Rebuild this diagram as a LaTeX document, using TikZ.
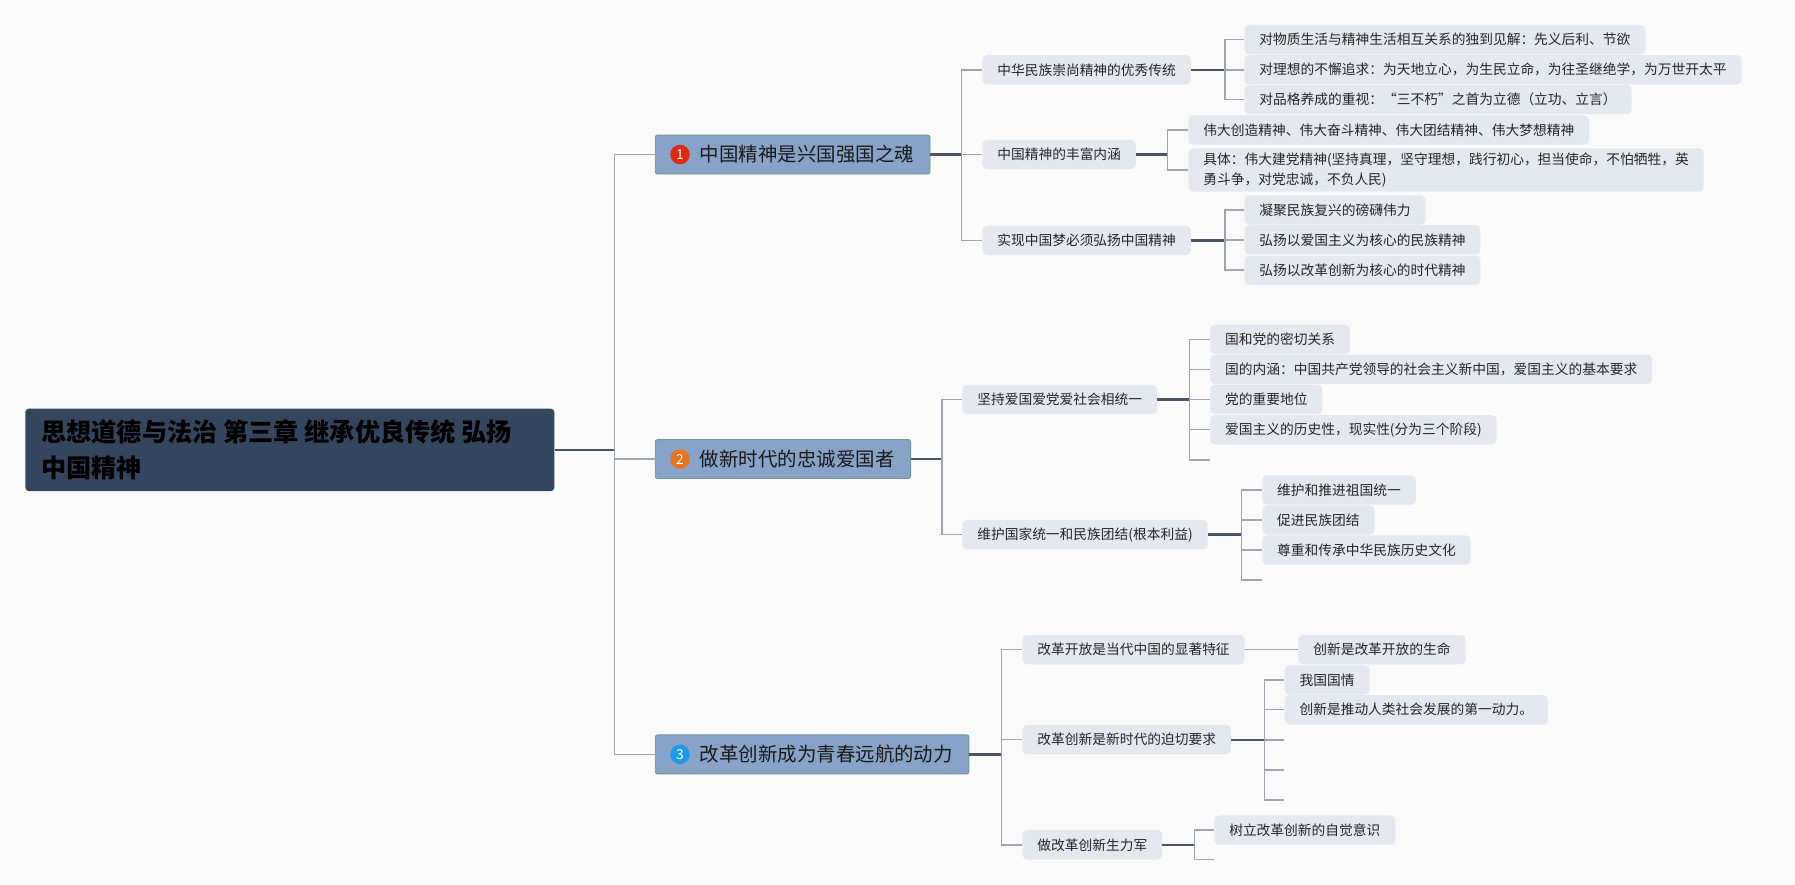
\documentclass[tikz,border=0pt]{standalone}
\usepackage{fontspec}
\setmainfont{Noto Sans CJK SC}
\usetikzlibrary{positioning}
\definecolor{rootblue}{RGB}{52,70,93}
\definecolor{topicblue}{RGB}{136,163,200}
\definecolor{topicedge}{RGB}{106,152,152}
\definecolor{subgray}{RGB}{228,232,239}
\definecolor{linedark}{RGB}{74,85,104}
\definecolor{linelight}{RGB}{160,164,172}
\definecolor{bgpaper}{RGB}{250,250,250}
\definecolor{dotred}{RGB}{222,40,16}
\definecolor{dotorange}{RGB}{232,115,26}
\definecolor{dotblue}{RGB}{30,155,232}
\tikzset{
  rootbox/.style={fill=rootblue, rounded corners=3pt, anchor=west, inner xsep=14pt, text width=434pt, minimum height=72pt, align=left, text=black, font=\fontsize{22}{32}\selectfont\bfseries},
  topicbox/.style={fill=topicblue, draw=topicedge, line width=0.8pt, rounded corners=2pt, anchor=west, inner xsep=14pt, minimum height=34pt, text=black!90, font=\fontsize{17}{20}\selectfont},
  subbox/.style={fill=subgray, rounded corners=4pt, anchor=west, inner xsep=13pt, inner ysep=4pt, minimum height=25.6pt, align=left, text=black!85, font=\fontsize{12}{17}\selectfont},
  numdot/.style={circle, inner sep=0pt, minimum size=17pt, text=white, font=\fontsize{12}{12}\selectfont},
  trunk/.style={draw=linedark, line width=2pt},
  branch/.style={draw=linelight, line width=1.2pt},
}
\begin{document}
\begin{tikzpicture}[x=1pt, y=-1pt]
  \fill[bgpaper] (0,0) rectangle (1568,773);
  \useasboundingbox (0,0) rectangle (1568,773);

  % Central topic
  \node[rootbox] (root) at (22,393) {思想道德与法治\hspace{5pt}第三章\hspace{5pt}继承优良传统\hspace{5pt}弘扬\\中国精神};

  % Main topics
  \node[topicbox] (t1) at (572,135) {\hspace*{25pt}中国精神是兴国强国之魂};
  \node[topicbox] (t2) at (572,401) {\hspace*{25pt}做新时代的忠诚爱国者};
  \node[topicbox] (t3) at (572,659) {\hspace*{25pt}改革创新成为青春远航的动力};
  \node[numdot, fill=dotred] (n1) at ([xshift=22pt]t1.west) {1};
  \node[numdot, fill=dotorange] (n2) at ([xshift=22pt]t2.west) {2};
  \node[numdot, fill=dotblue] (n3) at ([xshift=22pt]t3.west) {3};

  % Branch 1
  \node[subbox] (c11) at (858,61) {中华民族崇尚精神的优秀传统};
  \node[subbox] (c12) at (858,135) {中国精神的丰富内涵};
  \node[subbox] (c13) at (858,210) {实现中国梦必须弘扬中国精神};
  \node[subbox] (g111) at (1087,34.6) {对物质生活与精神生活相互关系的独到见解：先义后利、节欲};
  \node[subbox] (g112) at (1087,61) {对理想的不懈追求：为天地立心，为生民立命，为往圣继绝学，为万世开太平};
  \node[subbox] (g113) at (1087,87) {对品格养成的重视：“三不朽”之首为立德（立功、立言）};
  \node[subbox] (g121) at (1038,113.6) {伟大创造精神、伟大奋斗精神、伟大团结精神、伟大梦想精神};
  \node[subbox] (g122) at (1038,148.5) {具体：伟大建党精神(坚持真理，坚守理想，践行初心，担当使命，不怕牺牲，英\\勇斗争，对党忠诚，不负人民)};
  \node[subbox] (g131) at (1087,183.5) {凝聚民族复兴的磅礴伟力};
  \node[subbox] (g132) at (1087,209.5) {弘扬以爱国主义为核心的民族精神};
  \node[subbox] (g133) at (1087,236) {弘扬以改革创新为核心的时代精神};

  % Branch 2
  \node[subbox] (c21) at (840.5,349) {坚持爱国爱党爱社会相统一};
  \node[subbox] (c22) at (840.5,467) {维护国家统一和民族团结(根本利益)};
  \node[subbox] (g211) at (1057,296.4) {国和党的密切关系};
  \node[subbox] (g212) at (1057,322.6) {国的内涵：中国共产党领导的社会主义新中国，爱国主义的基本要求};
  \node[subbox] (g213) at (1057,348.8) {党的重要地位};
  \node[subbox] (g214) at (1057,375.4) {爱国主义的历史性，现实性(分为三个阶段)};
  \node[subbox] (g221) at (1102.5,428) {维护和推进祖国统一};
  \node[subbox] (g222) at (1102.5,454.2) {促进民族团结};
  \node[subbox] (g223) at (1102.5,480.4) {尊重和传承中华民族历史文化};

  % Branch 3
  \node[subbox] (c31) at (893,567.5) {改革开放是当代中国的显著特征};
  \node[subbox] (c32) at (893,646.2) {改革创新是新时代的迫切要求};
  \node[subbox] (c33) at (893,738) {做改革创新生力军};
  \node[subbox] (g311) at (1134,567.5) {创新是改革开放的生命};
  \node[subbox] (g321) at (1122,594) {我国国情};
  \node[subbox] (g322) at (1122,620) {创新是推动人类社会发展的第一动力。};
  \node[subbox] (g331) at (1060.6,725) {树立改革创新的自觉意识};

  % Junctions and empty ends
  \coordinate (r0) at (537,393);
  \coordinate (j1) at (840,135);
  \coordinate (j11) at (1070,61);
  \coordinate (j12) at (1020,135);
  \coordinate (j13) at (1070,210);
  \coordinate (j2) at (822.7,401);
  \coordinate (j21) at (1039,349);
  \coordinate (j22) at (1084.7,467);
  \coordinate (j3) at (875,659);
  \coordinate (j32) at (1104.6,646.2);
  \coordinate (j33) at (1043.3,738);
  \coordinate (e21) at (1057,401.8);
  \coordinate (e22) at (1102.5,506.6);
  \coordinate (e321) at (1122,646.4);
  \coordinate (e322) at (1122,672.6);
  \coordinate (e323) at (1122,698.8);
  \coordinate (e331) at (1060.6,751);

  % Connectors
  \draw[trunk] (root.east) -- (r0);
  \draw[branch] (r0) |- (t1.west);
  \draw[branch] (r0) |- (t2.west);
  \draw[branch] (r0) |- (t3.west);

  \draw[trunk] (t1.east) -- (j1);
  \draw[branch] (j1) |- (c11.west);
  \draw[branch] (j1) |- (c12.west);
  \draw[branch] (j1) |- (c13.west);
  \draw[trunk] (c11.east) -- (j11);
  \draw[branch] (j11) |- (g111.west);
  \draw[branch] (j11) |- (g112.west);
  \draw[branch] (j11) |- (g113.west);
  \draw[trunk] (c12.east) -- (j12);
  \draw[branch] (j12) |- (g121.west);
  \draw[branch] (j12) |- (g122.west);
  \draw[trunk] (c13.east) -- (j13);
  \draw[branch] (j13) |- (g131.west);
  \draw[branch] (j13) |- (g132.west);
  \draw[branch] (j13) |- (g133.west);

  \draw[trunk] (t2.east) -- (j2);
  \draw[branch] (j2) |- (c21.west);
  \draw[branch] (j2) |- (c22.west);
  \draw[trunk] (c21.east) -- (j21);
  \draw[branch] (j21) |- (g211.west);
  \draw[branch] (j21) |- (g212.west);
  \draw[branch] (j21) |- (g213.west);
  \draw[branch] (j21) |- (g214.west);
  \draw[branch] (j21) |- (e21);
  \draw[trunk] (c22.east) -- (j22);
  \draw[branch] (j22) |- (g221.west);
  \draw[branch] (j22) |- (g222.west);
  \draw[branch] (j22) |- (g223.west);
  \draw[branch] (j22) |- (e22);

  \draw[trunk] (t3.east) -- (j3);
  \draw[branch] (j3) |- (c31.west);
  \draw[branch] (j3) |- (c32.west);
  \draw[branch] (j3) |- (c33.west);
  \draw[branch] (c31.east) -- (g311.west);
  \draw[trunk] (c32.east) -- (j32);
  \draw[branch] (j32) |- (g321.west);
  \draw[branch] (j32) |- (g322.west);
  \draw[branch] (j32) |- (e321);
  \draw[branch] (j32) |- (e322);
  \draw[branch] (j32) |- (e323);
  \draw[trunk] (c33.east) -- (j33);
  \draw[branch] (j33) |- (g331.west);
  \draw[branch] (j33) |- (e331);
\end{tikzpicture}
\end{document}
